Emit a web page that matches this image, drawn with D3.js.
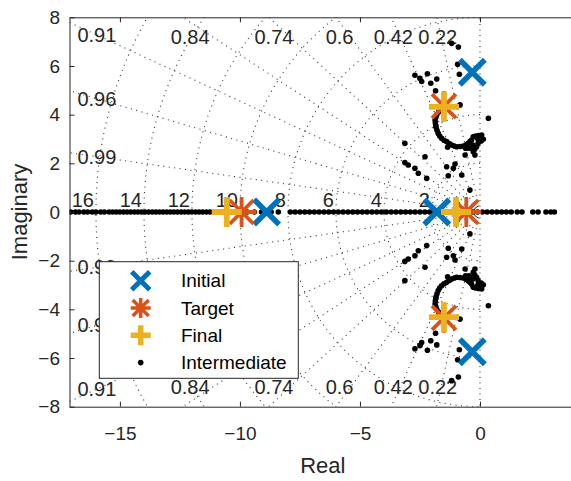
<!DOCTYPE html>
<html>
<head>
<meta charset="utf-8">
<script src="https://cdn.jsdelivr.net/npm/d3@7"></script>
<style>
  body { margin: 0; background: #fff; }
  svg { display: block; font-family: Arial, "Liberation Sans", sans-serif; }
</style>
</head>
<body>
<div id="chart"></div>
<script>
// ---- Data ----
const xTicks = [-15, -10, -5, 0];
const yTicks = [-8, -6, -4, -2, 0, 2, 4, 6, 8];
const zetaValues = [0.22, 0.42, 0.6, 0.74, 0.84, 0.91, 0.96, 0.99];
const wnValues = [2, 4, 6, 8, 10, 12, 14, 16];
const legendLabels = ["Initial", "Target", "Final", "Intermediate"];

// poles as [real, imag]
const initialPoles = [[-0.32, 5.74], [-0.32, -5.74], [-1.8, 0], [-8.89, 0]];
const targetPoles  = [[-1.5, 4.35], [-1.5, -4.35], [-0.57, 0], [-9.93, 0]];
const finalPoles   = [[-1.5, 4.32], [-1.5, -4.32], [-1.0, 0], [-10.55, 0]];

// intermediate poles lying on the real axis
const realAxisDots = [
  -17.05, -16.85, -16.7, -16.5, -16.35, -16.15, -16.0, -15.8, -15.65, -15.45,
  -15.3, -15.15, -15.0, -14.85, -14.7, -14.55, -14.4, -14.25, -14.1, -13.95,
  -13.8, -13.65, -13.5, -13.35, -13.2, -13.05, -12.9, -12.75, -12.6, -12.45,
  -12.3, -12.15, -12.0, -11.85, -11.7, -11.55, -11.4, -11.25, -11.1, -10.95,
  -10.8, -10.65, -10.3, -9.7, -9.4, -9.1, -8.7, -8.4,
  -7.9, -7.7, -7.5, -7.3, -7.1, -6.9, -6.7, -6.5, -6.3, -6.1, -5.9, -5.7,
  -5.5, -5.3, -5.1, -4.9, -4.7, -4.5, -4.3, -4.1, -3.9, -3.7, -3.5, -3.3,
  -3.1, -2.9, -2.7, -2.5, -2.3, -2.1, -1.9, -1.6, -1.3, -1.1, -0.8, -0.5,
  -0.3, -0.1, 0.1, 0.3, 0.5, 0.7, 0.9, 1.1, 1.3, 1.55, 1.75,
  2.2, 2.42, 2.75, 2.95, 3.1
];

// intermediate complex poles, upper half (conjugates mirrored below)
const upperDots = [
  [-0.90, 6.78], [-1.18, 6.93], [-0.93, 6.07], [-0.86, 5.66],
  [-2.71, 5.62], [-2.50, 5.49], [-2.43, 5.36], [-2.19, 5.68], [-2.05, 5.29],
  [-1.80, 5.46], [-1.85, 4.98], [-0.83, 4.40], [0.35, 3.85],
  [-1.72, 4.12], [-1.80, 4.00], [-1.84, 3.88], [-1.87, 3.78], [-1.86, 3.66],
  [-1.84, 3.55], [-1.83, 3.48], [-1.79, 3.36], [-1.74, 3.23], [-1.68, 3.12],
  [-1.60, 3.03], [-1.50, 2.95], [-1.39, 2.89], [-1.28, 2.81], [-1.18, 2.75],
  [-1.07, 2.71], [-0.97, 2.68], [-0.83, 2.69], [-0.69, 2.71], [-0.58, 2.76],
  [-0.49, 2.82], [-0.42, 2.89], [-0.35, 2.96], [-0.28, 3.09], [-0.18, 3.12],
  [-0.05, 3.14], [0.07, 3.16], [0.14, 2.99], [0.05, 2.92], [-0.08, 2.82],
  [-0.14, 2.68], [-0.22, 2.58], [-0.28, 2.48], [-0.21, 2.34], [-0.62, 2.34],
  [-0.45, 2.62], [-0.30, 2.75], [-0.10, 3.02], [-0.60, 2.62], [-1.35, 2.66],
  [-3.13, 2.82], [-2.29, 2.27], [-3.13, 2.03], [-2.99, 1.93], [-2.71, 1.80],
  [-2.57, 1.59], [-2.22, 1.38], [-1.39, 1.86], [-1.11, 1.80], [-1.04, 1.97],
  [-1.32, 1.49], [-0.76, 1.52], [-0.42, 0.90]
];

// ---- Layout ----
const W = 571, H = 481;
const plot = { left: 69.5, right: 576, top: 17.3, bottom: 406.7 };
const axisColor = "#262626";
const colors = { initial: "#0072BD", target: "#D95319", final: "#EDB120" };

const svg = d3.select("#chart")
  .append("svg")
  .attr("width", W)
  .attr("height", H);

const x = d3.scaleLinear().domain([-17.1, 4]).range([plot.left, plot.right]);
const y = d3.scaleLinear().domain([-8, 8]).range([plot.bottom, plot.top]);

svg.append("defs").append("clipPath")
  .attr("id", "plotClip")
  .append("rect")
  .attr("x", plot.left)
  .attr("y", plot.top)
  .attr("width", plot.right - plot.left)
  .attr("height", plot.bottom - plot.top);

const grid = svg.append("g").attr("clip-path", "url(#plotClip)");

// damping ratio rays (plus the imaginary axis, zeta = 0)
const R = 40;
[0, ...zetaValues].forEach(z => {
  const s = Math.sqrt(1 - z * z);
  [1, -1].forEach(sign => {
    grid.append("line")
      .attr("x1", x(0)).attr("y1", y(0))
      .attr("x2", x(-R * z)).attr("y2", y(sign * R * s))
      .attr("stroke", "#333")
      .attr("stroke-width", 1.1)
      .attr("stroke-dasharray", "1,4.5");
  });
});

// natural frequency half circles
const arc = d3.line().x(d => x(d[0])).y(d => y(d[1]));
wnValues.forEach(wn => {
  const pts = d3.range(0, 181, 2).map(a => {
    const t = (90 + a) * Math.PI / 180;
    return [wn * Math.cos(t), wn * Math.sin(t)];
  });
  grid.append("path")
    .attr("d", arc(pts))
    .attr("fill", "none")
    .attr("stroke", "#333")
    .attr("stroke-width", 1.1)
    .attr("stroke-dasharray", "1,4.5");
});

// grid labels
const gridLabels = svg.append("g")
  .attr("font-size", 20)
  .attr("fill", axisColor);

zetaValues.forEach(z => {
  const s = Math.sqrt(1 - z * z);
  const xTop = -7.8 * z / s;
  if (xTop > -15.96) {
    [7.2, -7.2].forEach(v => {
      gridLabels.append("text")
        .attr("x", x(xTop)).attr("y", y(v)).attr("dy", "0.35em")
        .attr("text-anchor", "middle")
        .text(String(z));
    });
  } else {
    const yv = 15.96 * s / z;
    [yv, -yv].forEach(v => {
      gridLabels.append("text")
        .attr("x", x(-15.96)).attr("y", y(v)).attr("dy", "0.35em")
        .attr("text-anchor", "middle")
        .text(String(z));
    });
  }
});

wnValues.forEach(wn => {
  gridLabels.append("text")
    .attr("x", x(-wn) - 2)
    .attr("y", y(0) - 5)
    .attr("text-anchor", "end")
    .text(wn);
});

// ---- Intermediate poles ----
const allDots = realAxisDots.map(r => [r, 0])
  .concat(upperDots)
  .concat(upperDots.map(d => [d[0], -d[1]]));

const marks = svg.append("g").attr("clip-path", "url(#plotClip)");

marks.selectAll("circle.dot")
  .data(allDots)
  .join("circle")
  .attr("class", "dot")
  .attr("cx", d => x(d[0]))
  .attr("cy", d => y(d[1]))
  .attr("r", 2.8)
  .attr("fill", "#000");

// marker shapes
function markerPath(type, s) {
  if (type === "x") return `M${-s},${-s}L${s},${s}M${-s},${s}L${s},${-s}`;
  if (type === "plus") return `M${-s},0L${s},0M0,${-s}L0,${s}`;
  const d = s * 0.8;
  return `M${-s},0L${s},0M0,${-s}L0,${s}M${-d},${-d}L${d},${d}M${-d},${d}L${d},${-d}`;
}

const markerSets = [
  { data: initialPoles, type: "x",    color: colors.initial, size: 12.5, sw: 5.5 },
  { data: targetPoles,  type: "star", color: colors.target,  size: 15,   sw: 3.8 },
  { data: finalPoles,   type: "plus", color: colors.final,   size: 15,   sw: 5.8 }
];

markerSets.forEach(m => {
  marks.selectAll(null)
    .data(m.data)
    .join("path")
    .attr("transform", d => `translate(${x(d[0])},${y(d[1])})`)
    .attr("d", markerPath(m.type, m.size))
    .attr("fill", "none")
    .attr("stroke", m.color)
    .attr("stroke-width", m.sw);
});

// ---- Axes ----
function styleAxis(g) {
  g.attr("font-size", 19).attr("font-family", null);
  g.selectAll("path.domain").attr("stroke", axisColor).attr("stroke-width", 1);
  g.selectAll(".tick line").attr("stroke", axisColor).attr("stroke-width", 1);
  g.selectAll(".tick text").attr("fill", axisColor);
}

svg.append("g")
  .attr("transform", `translate(0,${plot.bottom})`)
  .call(d3.axisBottom(x).tickValues(xTicks).tickSizeInner(-5).tickSizeOuter(0).tickPadding(20))
  .call(styleAxis);

svg.append("g")
  .attr("transform", `translate(0,${plot.top})`)
  .call(d3.axisTop(x).tickValues(xTicks).tickSizeInner(-5).tickSizeOuter(0).tickFormat(() => ""))
  .call(styleAxis);

svg.append("g")
  .attr("transform", `translate(${plot.left},0)`)
  .call(d3.axisLeft(y).tickValues(yTicks).tickSizeInner(-5).tickSizeOuter(0).tickPadding(9.5))
  .call(styleAxis);

// axis titles
svg.append("text")
  .attr("x", (plot.left + plot.right) / 2)
  .attr("y", 473)
  .attr("text-anchor", "middle")
  .attr("font-size", 22)
  .attr("fill", axisColor)
  .text("Real");

svg.append("text")
  .attr("transform", `translate(27,${(plot.top + plot.bottom) / 2}) rotate(-90)`)
  .attr("text-anchor", "middle")
  .attr("font-size", 22)
  .attr("fill", axisColor)
  .text("Imaginary");

// ---- Legend ----
const legend = svg.append("g").attr("transform", "translate(99.3,261.7)");

legend.append("rect")
  .attr("width", 199)
  .attr("height", 116.6)
  .attr("fill", "#fff")
  .attr("stroke", axisColor)
  .attr("stroke-width", 1);

const legendItems = [
  { type: "x",    color: colors.initial, size: 9,  sw: 5 },
  { type: "star", color: colors.target,  size: 10, sw: 3.5 },
  { type: "plus", color: colors.final,   size: 10, sw: 5.5 },
  { type: "dot",  color: "#000" }
];

legendItems.forEach((item, i) => {
  const row = legend.append("g").attr("transform", `translate(41.4,${19 + i * 27.3})`);
  if (item.type === "dot") {
    row.append("circle").attr("r", 2.8).attr("fill", item.color);
  } else {
    row.append("path")
      .attr("d", markerPath(item.type, item.size))
      .attr("fill", "none")
      .attr("stroke", item.color)
      .attr("stroke-width", item.sw);
  }
  row.append("text")
    .attr("x", 40.3)
    .attr("dy", "0.35em")
    .attr("font-size", 19)
    .attr("fill", "#000")
    .text(legendLabels[i]);
});
</script>
</body>
</html>
